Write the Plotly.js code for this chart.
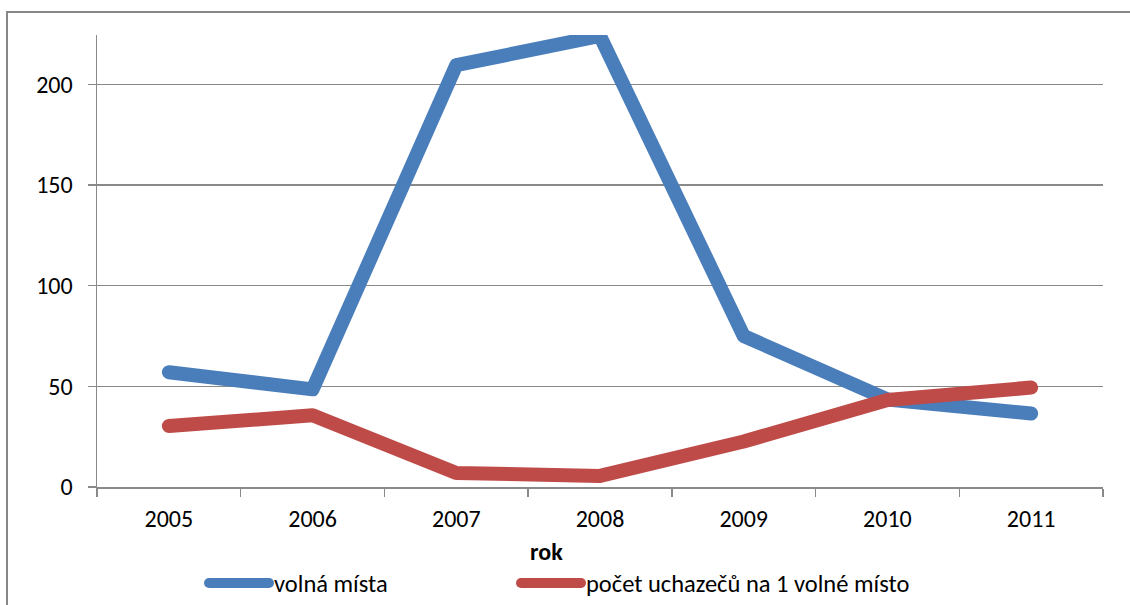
<!DOCTYPE html>
<html><head><meta charset="utf-8">
<script src="https://cdn.plot.ly/plotly-3.0.1.min.js"></script>
<style>body{margin:0;padding:0;background:#fff}#chart{width:1130px;height:605px}
.js-line{stroke-linecap:round !important;stroke-linejoin:round !important}
.legendlines path{stroke-linecap:round !important}</style>
</head><body><div id="chart"></div>
<script>
const years = ['2005','2006','2007','2008','2009','2010','2011'];
const volnaMista = [57, 48.5, 209.5, 224, 75, 43.5, 36.5];
const uchazeciNaMisto = [30.3, 35.6, 7, 5.5, 22.6, 43.2, 49.4];
const seriesNames = ['volná místa', 'počet uchazečů na 1 volné místo'];
const yTicks = [0, 50, 100, 150, 200];
const xTitle = 'rok';

const FONT = 'Carlito, Lato, sans-serif';
const grid = '#898989';
const traces = [
  {x: years, y: volnaMista, name: seriesNames[0], type: 'scatter', mode: 'lines',
   line: {color: '#4A7EBB', width: 14}, legend: 'legend'},
  {x: years, y: uchazeciNaMisto, name: seriesNames[1], type: 'scatter', mode: 'lines',
   line: {color: '#BE4B48', width: 14}, legend: 'legend2'}
];
const legendBase = {orientation: 'h', xref: 'container', yref: 'container',
  xanchor: 'left', y: (605-583)/605, yanchor: 'middle', itemwidth: 60,
  font: {size: 24.5}, bgcolor: 'rgba(0,0,0,0)'};
const layout = {
  width: 1130, height: 605,
  margin: {l: 97, r: 27, t: 35, b: 118, autoexpand: false},
  paper_bgcolor: '#fff', plot_bgcolor: '#fff',
  font: {family: FONT, size: 24, color: '#000'},
  showlegend: true,
  legend: Object.assign({}, legendBase, {x: 204/1130}),
  legend2: Object.assign({}, legendBase, {x: 516/1130}),
  xaxis: {type: 'category', range: [-0.5, 6.5], showgrid: false, showline: true, linecolor: grid,
          linewidth: 1.5, ticks: 'outside', tickson: 'boundaries', ticklen: 8, tickcolor: grid,
          tickwidth: 1.5, tickfont: {size: 24}, automargin: false, ticklabelstandoff: 10},
  yaxis: {range: [0, 224.5], tickvals: yTicks, showgrid: true, gridcolor: grid, gridwidth: 1.5,
          showline: true, linecolor: grid, linewidth: 1.5, ticks: 'outside', ticklen: 8,
          tickcolor: grid, tickwidth: 1.5, zeroline: false, tickfont: {size: 24},
          ticklabelstandoff: 10, automargin: false},
  annotations: [{text: '<b>' + xTitle + '</b>', xref: 'paper', yref: 'paper',
                 x: (546-97)/1006, y: (487-551)/452, xanchor: 'center', yanchor: 'middle',
                 showarrow: false, font: {size: 24}}],
  shapes: [{type: 'rect', xref: 'paper', yref: 'paper', x0: (7-97)/1006, x1: 1.2,
            y0: -0.6, y1: (487-12)/452, line: {color: '#878787', width: 2}, layer: 'below'}]
};
Plotly.newPlot('chart', traces, layout, {displayModeBar: false, staticPlot: true});
</script></body></html>
